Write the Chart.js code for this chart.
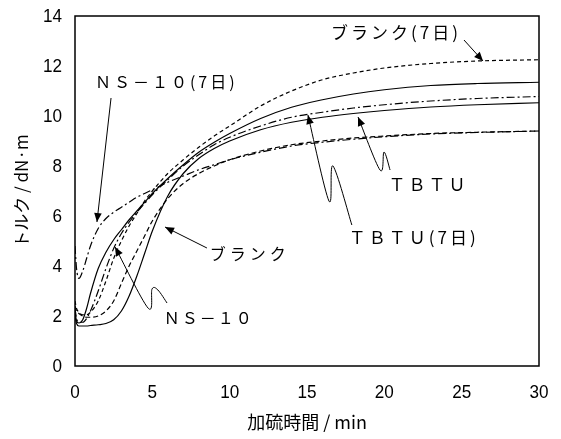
<!DOCTYPE html>
<html><head><meta charset="utf-8">
<script src="https://cdn.jsdelivr.net/npm/chart.js@4.4.1/dist/chart.umd.min.js"></script>
<style>html,body{margin:0;padding:0;background:#fff;}#wrap{width:561px;height:439px;}</style>
</head><body><div id="wrap"><canvas id="c" width="561" height="439"></canvas></div>
<script>
// ---- data (time in min, torque in dN·m) ----
const times      = [0, 0.1, 0.25, 0.5, 0.75, 1, 1.5, 2, 2.5, 3, 3.5, 4, 4.5, 5, 6, 7, 8, 9, 10, 12, 14, 16, 18, 20, 23, 26, 30];
const blank7     = [2.6, 2.3, 2.15, 2.05, 2.05, 2.15, 2.6, 3.4, 4.3, 5.0, 5.6, 6.1, 6.6, 7.0, 7.7, 8.25, 8.75, 9.2, 9.6, 10.4, 11.0, 11.45, 11.72, 11.92, 12.1, 12.2, 12.25];
const tbtu7      = [2.2, 1.8, 1.72, 1.85, 2.3, 2.9, 3.9, 4.55, 5.05, 5.45, 5.85, 6.2, 6.55, 6.9, 7.5, 8.05, 8.55, 8.95, 9.3, 9.9, 10.35, 10.65, 10.88, 11.05, 11.22, 11.3, 11.35];
const ns10       = [2.3, 1.9, 1.75, 1.75, 1.9, 2.2, 3.0, 3.9, 4.7, 5.3, 5.75, 6.15, 6.5, 6.85, 7.45, 8.0, 8.45, 8.85, 9.15, 9.6, 9.95, 10.15, 10.32, 10.45, 10.6, 10.7, 10.78];
const tbtu       = [2.0, 1.7, 1.6, 1.6, 1.6, 1.62, 1.65, 1.7, 1.85, 2.2, 2.8, 3.6, 4.5, 5.4, 6.8, 7.7, 8.3, 8.7, 9.0, 9.45, 9.75, 9.95, 10.1, 10.22, 10.36, 10.45, 10.53];
const blank      = [2.4, 2.2, 2.1, 2.0, 1.95, 1.95, 2.0, 2.2, 2.6, 3.3, 4.0, 4.6, 5.2, 5.8, 6.7, 7.3, 7.7, 8.0, 8.25, 8.6, 8.85, 9.0, 9.12, 9.2, 9.3, 9.35, 9.4];
const ns10d7     = [4.8, 3.9, 3.5, 3.8, 4.3, 4.8, 5.5, 5.9, 6.15, 6.35, 6.55, 6.75, 6.9, 7.05, 7.35, 7.6, 7.85, 8.05, 8.25, 8.55, 8.8, 8.95, 9.07, 9.17, 9.28, 9.34, 9.4];
const seriesNames = ['ブランク(7日)', 'TBTU(7日)', 'NS-10', 'TBTU', 'ブランク', 'NS-10(7日)'];
const xTickValues = [0, 5, 10, 15, 20, 25, 30];
const yTickValues = [0, 2, 4, 6, 8, 10, 12, 14];
const xTitle = '加硫時間 / min';
const yTitle = 'トルク / dN·m';

// ---- styles ----
const dashes = [[4,3], [], [8,3,2,3], [], [5,3], [8,3,2,3]];
const seriesValues = [blank7, tbtu7, ns10, tbtu, blank, ns10d7];
const datasets = seriesValues.map((vals, i) => ({
  label: seriesNames[i],
  data: times.map((t, k) => ({x: t, y: vals[k]})),
  borderColor: '#000', borderWidth: 1.2, borderDash: dashes[i],
  pointRadius: 0, fill: false, cubicInterpolationMode: 'monotone'
}));

// annotations in data units: label position + arrow path (last point = tip)
const notes = [
  {text: 'ブランク(7日)', t: 20.75, v: 13.32, font: '17px "Noto Sans CJK JP"', ls: 3, path: [[25.15,13.04],[26.38,12.2]]},
  {text: 'ＮＳ－１０(7日)', t: 5.9, v: 11.36, font: '16px "Noto Sans CJK JP"', ls: 3, path: [[2.33,10.72],[1.42,5.76]]},
  {text: 'ブランク', t: 11.3, v: 4.48, font: '16px "Noto Sans CJK JP"', ls: 4, path: [[8.53,4.72],[5.82,5.56]]},
  {text: 'ＮＳ－１０', t: 8.65, v: 1.92, font: '16px "Noto Sans CJK JP"', ls: 2, path: [[5.95,2.52],[5.36,3.04],[4.98,3.08],[4.72,2.32],[2.59,4.76]]},
  {text: 'ＴＢＴＵ', t: 22.85, v: 7.24, font: '17px "Noto Sans CJK JP"', ls: 3, path: [[20.37,7.84],[19.98,8.56],[19.72,7.84],[18.3,9.96]]},
  {text: 'ＴＢＴＵ(7日)', t: 21.9, v: 5.12, font: '17px "Noto Sans CJK JP"', ls: 3, path: [[17.9,5.64],[16.68,8.0],[16.42,6.6],[15.06,10.04]]}
];

function smoothPath(ctx, p) {
  ctx.moveTo(p[0][0], p[0][1]);
  if (p.length === 2) { ctx.lineTo(p[1][0], p[1][1]); return; }
  for (let i = 0; i < p.length - 1; i++) {
    const p0 = p[i-1] || p[i], p1 = p[i], p2 = p[i+1], p3 = p[i+2] || p[i+1];
    const c1 = [p1[0] + (p2[0]-p0[0])/6, p1[1] + (p2[1]-p0[1])/6];
    const c2 = [p2[0] - (p3[0]-p1[0])/6, p2[1] - (p3[1]-p1[1])/6];
    ctx.bezierCurveTo(c1[0], c1[1], c2[0], c2[1], p2[0], p2[1]);
  }
}

function narrowText(ctx, txt, px, py, align) {
  const sx = 0.9;
  ctx.save();
  ctx.translate(px, py);
  ctx.scale(sx, 1);
  ctx.textAlign = align; ctx.textBaseline = 'middle';
  ctx.fillText(txt, 0, 0);
  ctx.restore();
}

const annotPlugin = {
  id: 'annot',
  afterDatasetsDraw(chart) {
    const {ctx, chartArea: a, scales: {x, y}} = chart;
    ctx.save();
    ctx.strokeStyle = '#000'; ctx.lineWidth = 1.5; ctx.setLineDash([]);
    ctx.strokeRect(a.left, a.top, a.right - a.left, a.bottom - a.top);
    ctx.fillStyle = '#000';
    // tick labels (narrow)
    ctx.font = '19px "Liberation Sans"';
    for (const v of xTickValues) narrowText(ctx, String(v), x.getPixelForValue(v), a.bottom + 27, 'center');
    for (const v of yTickValues) narrowText(ctx, String(v), a.left - 13, y.getPixelForValue(v) + 1, 'right');
    ctx.lineWidth = 1;
    for (const n of notes) {
      ctx.font = n.font;
      ctx.letterSpacing = n.ls + 'px';
      ctx.textAlign = 'center'; ctx.textBaseline = 'middle';
      ctx.fillText(n.text, x.getPixelForValue(n.t), y.getPixelForValue(n.v));
      ctx.letterSpacing = '0px';
      const pts = n.path.map(q => [x.getPixelForValue(q[0]), y.getPixelForValue(q[1])]);
      ctx.beginPath(); smoothPath(ctx, pts); ctx.stroke();
      const tip = pts[pts.length-1], prev = pts[pts.length-2];
      const ang = Math.atan2(tip[1]-prev[1], tip[0]-prev[0]);
      const L = 9, W = 3.8;
      ctx.beginPath();
      ctx.moveTo(tip[0], tip[1]);
      ctx.lineTo(tip[0] - L*Math.cos(ang) + W*Math.sin(ang), tip[1] - L*Math.sin(ang) - W*Math.cos(ang));
      ctx.lineTo(tip[0] - L*Math.cos(ang) - W*Math.sin(ang), tip[1] - L*Math.sin(ang) + W*Math.cos(ang));
      ctx.closePath(); ctx.fill();
    }
    ctx.restore();
  }
};

new Chart(document.getElementById('c'), {
  type: 'line',
  data: {datasets},
  options: {
    responsive: false, animation: false, devicePixelRatio: 1,
    layout: {padding: {top: 16, right: 22, left: 0, bottom: 0}},
    plugins: {legend: {display: false}, tooltip: {enabled: false}},
    scales: {
      x: {
        type: 'linear', min: 0, max: 30,
        afterBuildTicks: s => { s.ticks = xTickValues.map(v => ({value: v})); },
        afterFit: s => { s.height = 73; },
        grid: {display: false, drawTicks: false}, border: {display: false},
        ticks: {display: false},
        title: {display: true, text: xTitle, color: '#000', font: {family: '"Noto Sans CJK JP"', size: 18}, padding: {top: 0, bottom: 6}}
      },
      y: {
        type: 'linear', min: 0, max: 14,
        afterBuildTicks: s => { s.ticks = yTickValues.map(v => ({value: v})); },
        afterFit: s => { s.width = 75; },
        grid: {display: false, drawTicks: false}, border: {display: false},
        ticks: {display: false},
        title: {display: true, text: yTitle, color: '#000', font: {family: '"Noto Sans CJK JP"', size: 17}, padding: {top: 11, bottom: 0}}
      }
    }
  },
  plugins: [annotPlugin]
});
</script></body></html>
